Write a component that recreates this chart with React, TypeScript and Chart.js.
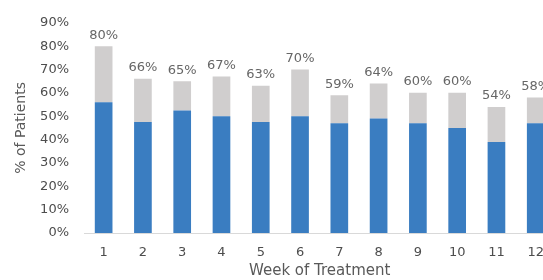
import React, { useEffect, useRef } from "react";
import { Chart, registerables } from "chart.js";

Chart.register(...registerables);

const weeks = ["1", "2", "3", "4", "5", "6", "7", "8", "9", "10", "11", "12"];
const blueValues = [56, 47.5, 52.5, 50, 47.5, 50, 47, 49, 47, 45, 39, 47];
const totalValues = [80, 66, 65, 67, 63, 70, 59, 64, 60, 60, 54, 58];
const grayValues = totalValues.map((t, i) => t - blueValues[i]);
const yTicks = [0, 10, 20, 30, 40, 50, 60, 70, 80, 90];

const TEXT = "#595959";

const totalLabels = {
  id: "totalLabels",
  afterDatasetsDraw(chart: any) {
    const ctx = chart.ctx;
    const meta = chart.getDatasetMeta(1);
    ctx.save();
    ctx.font = "13px 'DejaVu Sans'";
    ctx.fillStyle = "#666666";
    ctx.textAlign = "center";
    ctx.textBaseline = "middle";
    meta.data.forEach((bar: any, i: number) => {
      ctx.fillText(totalValues[i] + "%", bar.x, bar.y - 11);
    });
    ctx.restore();
  },
};

export default function App() {
  const ref = useRef<HTMLCanvasElement | null>(null);
  useEffect(() => {
    if (!ref.current) return;
    Chart.defaults.font.family = "'DejaVu Sans'";
    const chart = new Chart(ref.current, {
      type: "bar",
      data: {
        labels: weeks,
        datasets: [
          {
            label: "Blue",
            data: blueValues,
            backgroundColor: "#3A7DC1",
            barPercentage: 0.9,
            categoryPercentage: 0.5,
          },
          {
            label: "Gray",
            data: grayValues,
            backgroundColor: "#D0CECE",
            barPercentage: 0.9,
            categoryPercentage: 0.5,
          },
        ],
      },
      options: {
        responsive: false,
        animation: false,
        devicePixelRatio: 1,
        layout: { padding: { top: 17, left: 0, right: 0, bottom: 0 } },
        plugins: {
          legend: { display: false },
          tooltip: { enabled: false },
        },
        scales: {
          x: {
            stacked: true,
            grid: { display: false, drawTicks: false },
            border: { display: true, color: "#D9D9D9", width: 1 },
            ticks: { color: "#4D4D4D", font: { size: 13 }, padding: 12, maxRotation: 0 },
            title: {
              display: true,
              text: "Week of Treatment",
              color: TEXT,
              font: { size: 15 },
              padding: { top: 0, bottom: 0 },
            },
            afterFit: (scale: any) => {
              scale.height = 47;
            },
          },
          y: {
            stacked: true,
            min: 0,
            max: 90,
            afterBuildTicks: (scale: any) => {
              scale.ticks = yTicks.map((v) => ({ value: v }));
            },
            grid: { display: false, drawTicks: false },
            border: { display: false },
            ticks: {
              color: "#4D4D4D",
              font: { size: 13 },
              padding: 15,
              callback: (v: any) => v + "%",
            },
            title: {
              display: true,
              text: "% of Patients",
              color: TEXT,
              font: { size: 14 },
              padding: { top: 13, bottom: 0 },
            },
            afterFit: (scale: any) => {
              scale.width = 84;
            },
          },
        },
      },
      plugins: [totalLabels],
    });
    return () => chart.destroy();
  }, []);
  return (
    <div
      style={{
        position: "fixed",
        left: 0,
        top: 0,
        width: 543,
        height: 280,
        overflow: "hidden",
        background: "#fff",
      }}
    >
      <canvas ref={ref} width={556} height={280} style={{ display: "block" }} />
    </div>
  );
}
